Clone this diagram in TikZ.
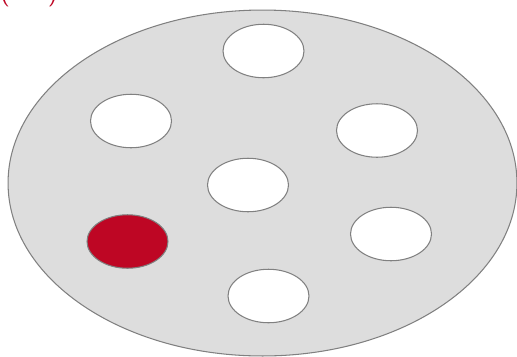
\documentclass[tikz,border=0pt]{standalone}
\usetikzlibrary{shapes.geometric}
\definecolor{plategray}{HTML}{DDDDDD}
\definecolor{rimgray}{HTML}{808080}
\definecolor{markred}{HTML}{BE0624}

\begin{document}
\begin{tikzpicture}[
    x=0.02cm, y=-0.02cm,
    plate/.style={ellipse, draw=rimgray, fill=plategray, line width=0.6pt, minimum width=10.18cm, minimum height=6.92cm, inner sep=0pt},
    well/.style={ellipse, draw=rimgray, fill=white, line width=0.6pt, minimum width=1.62cm, minimum height=1.07cm, inner sep=0pt},
    marked/.style={well, fill=markred}
]

% Frame of the picture
\path[use as bounding box, clip] (0, 0) rectangle (517, 356);

% Caption cut off at the top edge
\node[anchor=base west, inner sep=0pt, text=markred, font=\Large\sffamily] (tag) at (0, 0.5) {(\hspace{1.5em})};

% Plate (central dish)
\node[plate] (dish) at (262.5, 183) {};

% Wells on the plate
\node[well] (top) at (263.5, 51) {};
\node[well] (upleft) at (131, 121) {};
\node[well] (upright) at (377, 130.5) {};
\node[well] (centre) at (248, 185) {};
\node[marked] (lowleft) at (127.5, 241.5) {};
\node[well] (lowright) at (391, 234) {};
\node[well] (bottom) at (268.5, 296) {};

\end{tikzpicture}
\end{document}
